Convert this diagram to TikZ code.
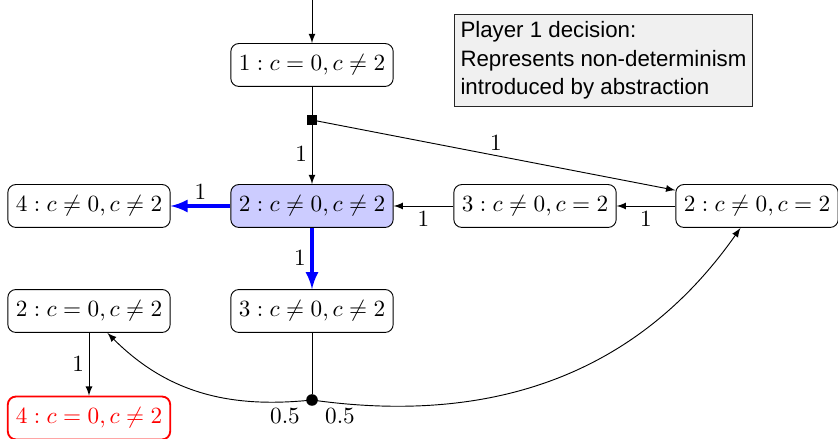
\documentclass[tikz,border=0pt]{standalone}
\usepackage{fontspec}
\newfontfamily\infofont{Liberation Sans}
\usetikzlibrary{arrows}
\begin{document}
\begin{tikzpicture}[x=0.431pt,y=-0.431pt,>=latex,
  state/.style={draw,rounded corners=3.5pt,minimum width=70pt,minimum height=18.5pt,inner sep=2pt},
  chosen/.style={state,fill=blue!20},
  bad/.style={state,draw=red,text=red,thick},
  sq/.style={draw,fill=black,minimum size=3.5pt,inner sep=0pt},
  probdot/.style={circle,fill=black,minimum size=5pt,inner sep=0pt},
  infobox/.style={draw=black!85,fill=black!6,inner xsep=2.5pt,inner ysep=2pt,minimum width=128pt,minimum height=40pt,align=left,font=\infofont\fontsize{9.6}{12.2}\selectfont},
  blueedge/.style={->,blue,line width=1.5pt},
  lbl/.style={inner sep=2pt}]
\useasboundingbox (0,0) rectangle (838,439);
\coordinate (start) at (312,0);
\node[state] (n1) at (312,65) {$1: c=0, c\neq 2$};
\node[sq] (s) at (312,120) {};
\node[chosen] (n2) at (312,206) {$2: c\neq 0, c\neq 2$};
\node[state] (n4) at (89,206) {$4: c\neq 0, c\neq 2$};
\node[state] (n3) at (535,206) {$3: c\neq 0, c=2$};
\node[state] (n2b) at (757,206) {$2: c\neq 0, c=2$};
\node[state] (n2c) at (89,311) {$2: c=0, c\neq 2$};
\node[state] (n3b) at (312,311) {$3: c\neq 0, c\neq 2$};
\node[bad] (n4r) at (89,418) {$4: c=0, c\neq 2$};
\node[probdot] (d) at (312,400) {};
\node[infobox] (info) at (603.5,60.5) {Player 1 decision:\\Represents non-determinism\\introduced by abstraction};
\node[lbl] (pa) at (285,416) {$0.5$};
\node[lbl] (pb) at (340,416) {$0.5$};

\draw[->] (start) -- (n1);
\draw (n1) -- (s);
\draw[->] (s) -- node[left,lbl] {$1$} (n2);
\draw[->] (s) -- node[above,lbl,pos=0.5] {$1$} (n2b);
\draw[->] (n2b) -- node[below,lbl] {$1$} (n3);
\draw[->] (n3) -- node[below,lbl] {$1$} (n2);
\draw[blueedge] (n2) -- node[above,lbl,text=black] {$1$} (n4);
\draw[blueedge] (n2) -- node[left,lbl,text=black] {$1$} (n3b);
\draw[->] (n2c) -- node[left,lbl] {$1$} (n4r);
\draw (n3b) -- (d);
\draw[->] (d.center) to[out=186,in=-45] (n2c.-50);
\draw[->] (d.center) to[out=-8,in=-125] (n2b.-127);
\end{tikzpicture}
\end{document}
